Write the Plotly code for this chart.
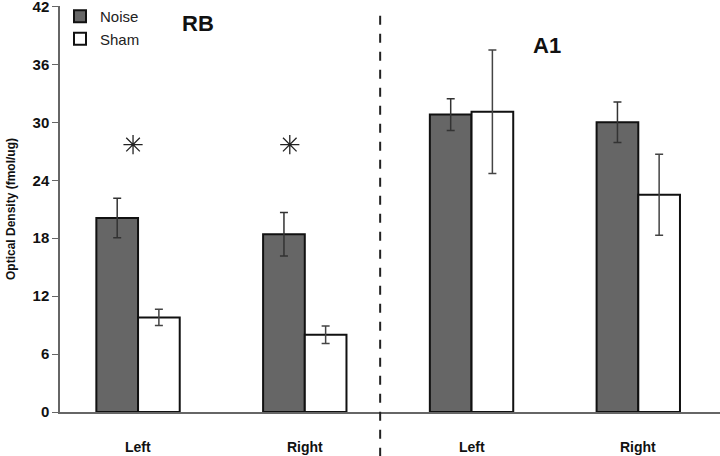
import plotly.graph_objects as go

positions = [0, 1, 2, 3]
tick_labels = ["Left", "Right", "Left", "Right"]
noise_vals = [20.1, 18.4, 30.8, 30.0]
noise_err = [2.05, 2.25, 1.65, 2.1]
sham_vals = [9.8, 8.0, 31.1, 22.5]
sham_err = [0.85, 0.9, 6.4, 4.2]
star_x = [-0.03, 0.91]
star_y = [27.7, 27.7]
y_ticks = [0, 6, 12, 18, 24, 30, 36, 42]

fig = go.Figure()
fig.add_bar(x=positions, y=noise_vals, name="Noise", offsetgroup="a",
            marker=dict(color="#666666", line=dict(color="#111111", width=2)),
            error_y=dict(type="data", array=noise_err, color="#333333", thickness=1.5, width=4))
fig.add_bar(x=positions, y=sham_vals, name="Sham", offsetgroup="b",
            marker=dict(color="white", line=dict(color="#111111", width=2)),
            error_y=dict(type="data", array=sham_err, color="#444444", thickness=1.5, width=4))
fig.add_scatter(x=star_x, y=star_y, mode="markers", showlegend=False,
                marker=dict(symbol="asterisk-open", size=16, color="#222222",
                            line=dict(color="#222222", width=1.3)))

fig.add_shape(type="line", xref="x", yref="paper", x0=1.452, x1=1.452, y0=-0.11, y1=0.99,
              line=dict(color="#222222", width=2, dash="dash"))
fig.add_annotation(x=0.36, y=40.2, xref="x", yref="y", text="<b>RB</b>", showarrow=False,
                   font=dict(size=22, color="#111111", family="Liberation Sans"))
fig.add_annotation(x=2.45, y=38.0, xref="x", yref="y", text="<b>A1</b>", showarrow=False,
                   font=dict(size=22, color="#111111", family="Liberation Sans"))
for p, t in zip(positions, tick_labels):
    fig.add_annotation(x=p, y=-0.085, xref="x", yref="paper", text="<b>%s</b>" % t,
                       showarrow=False, yanchor="middle",
                       font=dict(size=14, color="#111111", family="Liberation Sans"))

fig.update_layout(
    width=720, height=456,
    margin=dict(l=60, r=0, t=6, b=44, autoexpand=False),
    plot_bgcolor="white", paper_bgcolor="white",
    barmode="group", bargap=0.5, bargroupgap=0,
    font=dict(family="Liberation Sans", color="#111111"),
    legend=dict(x=0.0, y=1.015, xanchor="left", yanchor="top", bgcolor="rgba(0,0,0,0)",
                font=dict(size=15, color="#222222"), tracegroupgap=2, itemwidth=30),
    xaxis=dict(range=[-0.468, 3.49], showticklabels=False, automargin=False,
               showline=True, linecolor="#666666", linewidth=1.5, ticks="", showgrid=False,
               zeroline=False),
    yaxis=dict(range=[0, 42.05], tickvals=y_ticks, automargin=False,
               ticktext=["<b>%d</b>" % v for v in y_ticks], ticklabeloverflow="allow",
               showline=True, linecolor="#666666", linewidth=1.5, ticks="outside", ticklen=6,
               tickcolor="#666666", showgrid=False, zeroline=False, tickfont=dict(size=15),
               title=dict(text="<b>Optical Density (fmol/ug)</b>", font=dict(size=12), standoff=14)),
)

fig.write_html("out.html", config={"displayModeBar": False},
               post_script="document.body.style.margin='0';document.body.style.overflow='hidden';")
